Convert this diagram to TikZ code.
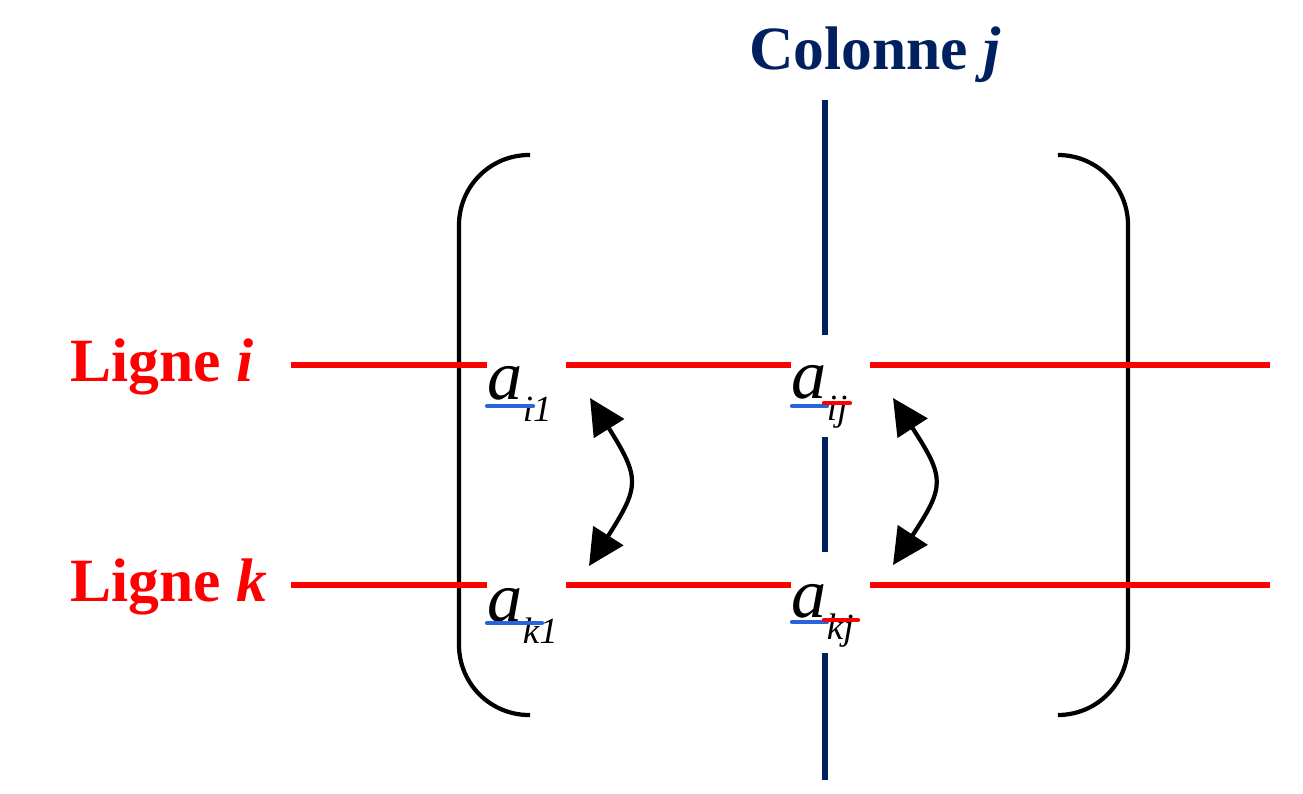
\documentclass[tikz,border=0pt]{standalone}
\usepackage{fontspec}
\setmainfont{Liberation Serif}
\usepackage{tikz}
\usetikzlibrary{arrows.meta,calc,positioning}
\definecolor{rouge}{RGB}{255,0,0}
\definecolor{bleufonce}{RGB}{0,32,96}
\definecolor{souligne}{RGB}{40,100,220}
\newcommand\coef[2]{{\fontsize{20}{22}\selectfont\itshape #1}\raisebox{-0.22cm}{\fontsize{10.5}{12}\selectfont\itshape #2}}
\tikzset{
  ligne/.style={
    line width = 1.5pt,
    rouge
  },
  colonne/.style={
    line width = 1.5pt,
    bleufonce
  },
  parenthese/.style={
    line width = 1.2pt,
    rounded corners = 0.7cm
  },
  entree/.style={
    inner sep = 0,
    text width = 0.78cm,
    align = left,
    anchor = base west
  },
  titre/.style={
    font = \fontsize{17.5}{20}\selectfont\bfseries,
    inner sep = 0
  },
  echange/.style={
    line width = 1.2pt,
    {Triangle[length=0.36cm,width=0.35cm]}-{Triangle[length=0.36cm,width=0.35cm]}
  },
  trait/.style={
    line width = 1.2pt,
    line cap = round
  }
}

\begin{document}
\begin{tikzpicture}[x=0.01cm,y=-0.01cm]
    \useasboundingbox (0,0) rectangle (1303,794);

    % parentheses
    \draw[parenthese] (530,155) -- (459,155) -- (459,715) -- (530,715);
    \draw[parenthese] (1058,155) -- (1128,155) -- (1128,715) -- (1058,715);

    \node[titre, text=bleufonce, anchor=base] (Cj) at (875,70) {Colonne \textit{j}};
    \node[titre, text=rouge, anchor=base west] (Li) at (70,381) {Ligne \textit{i}};
    \node[titre, text=rouge, anchor=base west] (Lk) at (70,601) {Ligne \textit{k}};

    \node[entree] (ai1) at (487,399) {\coef{a}{i1}};
    \node[entree] (aij) at (791,398) {\coef{a}{ij}};
    \node[entree] (ak1) at (487,621) {\coef{a}{k1}};
    \node[entree] (akj) at (791,617) {\coef{a}{kj}};

    \coordinate (Li0) at (291,365);
    \coordinate (Li1) at (1270,365);
    \coordinate (Lk0) at (291,585);
    \coordinate (Lk1) at (1270,585);

    \coordinate (Cj0) at (825,100);
    \coordinate (Cj1) at (825,335);
    \coordinate (Cj2) at (825,437);
    \coordinate (Cj3) at (825,552);
    \coordinate (Cj4) at (825,653);
    \coordinate (Cj5) at (825,780);

    \draw[colonne] (Cj0) -- (Cj1);
    \draw[colonne] (Cj2) -- (Cj3);
    \draw[colonne] (Cj4) -- (Cj5);

    \draw[ligne] (Li0) -- (ai1.west |- Li0);
    \draw[ligne] (ai1.east |- Li0) -- (aij.west |- Li0);
    \draw[ligne] (aij.east |- Li0) -- (Li1);
    \draw[ligne] (Lk0) -- (ak1.west |- Lk0);
    \draw[ligne] (ak1.east |- Lk0) -- (akj.west |- Lk0);
    \draw[ligne] (akj.east |- Lk0) -- (Lk1);

    % soulignements
    \draw[trait, souligne] ([shift={(0,7)}]ai1.base west) --++ (46,0);
    \draw[trait, souligne] ([shift={(0,2)}]ak1.base west) --++ (55,0);
    \draw[trait, souligne] ([shift={(1,8)}]aij.base west) --++ (35,0);
    \draw[trait, rouge] ([shift={(33,5)}]aij.base west) --++ (26,0);
    \draw[trait, souligne] ([shift={(1,5)}]akj.base west) --++ (35,0);
    \draw[trait, rouge] ([shift={(33,3)}]akj.base west) --++ (34,0);

    \coordinate (h1) at (590,398);
    \coordinate (b1) at (589,566);
    \coordinate (hj) at (893,398);
    \coordinate (bj) at (893,565);

    \draw[echange] (h1) .. controls (640,478) and (640,486) .. (b1);
    \draw[echange] (hj) .. controls (945,478) and (945,486) .. (bj);

\end{tikzpicture}
\end{document}
